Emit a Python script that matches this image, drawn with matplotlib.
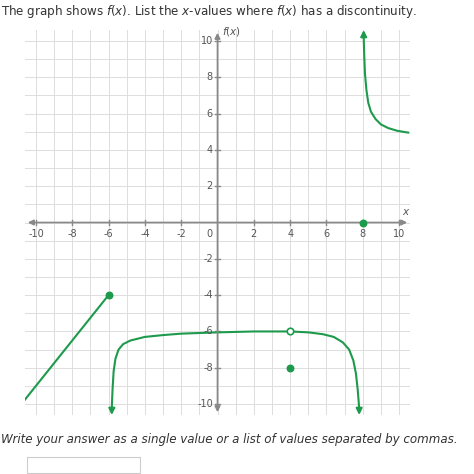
import matplotlib
matplotlib.use("Agg")
import matplotlib.pyplot as plt

GREEN = "#1d9a4c"
# pieces
line_x = [-10.6, -6.0]
line_y = [-9.75, -4.0]
mid_x = [-5.82, -5.78, -5.72, -5.62, -5.45, -5.2, -4.8, -4.0, -3.0, -2.0, 0.0, 2.0, 4.0, 5.0, 5.8, 6.4, 6.9, 7.25, 7.48, 7.62, 7.72, 7.8]
mid_y = [-10.2, -9.2, -8.2, -7.5, -7.0, -6.7, -6.5, -6.3, -6.2, -6.12, -6.05, -6.0, -6.0, -6.05, -6.15, -6.3, -6.6, -7.0, -7.6, -8.3, -9.2, -10.2]
right_x = [8.05, 8.08, 8.12, 8.2, 8.3, 8.45, 8.7, 9.0, 9.4, 9.9, 10.5]
right_y = [10.2, 9.2, 8.2, 7.3, 6.6, 6.1, 5.7, 5.4, 5.2, 5.05, 4.95]
filled_x = [-6, 4, 8]
filled_y = [-4, -8, 0]
open_x = [4]
open_y = [-6]
ticks = [-10, -8, -6, -4, -2, 2, 4, 6, 8, 10]

fig = plt.figure(figsize=(4.74, 4.74), dpi=100)
fig.text(0.003, 0.975, "The graph shows $f(x)$. List the $x$-values where $f(x)$ has a discontinuity.",
         fontsize=8.6, color="#333333", va="center")
fig.text(0.003, 0.072, "Write your answer as a single value or a list of values separated by commas.",
         fontsize=8.6, style="italic", color="#333333", va="center")
fig.patches.append(plt.Rectangle((27 / 474, 1 - 473 / 474), 113 / 474, 16 / 474,
                                 transform=fig.transFigure, fill=False, edgecolor="#cccccc", lw=0.8))

ax = fig.add_axes([25 / 474, 59 / 474, 385 / 474, 385 / 474])
ax.set_xlim(-10.6, 10.6)
ax.set_ylim(-10.6, 10.6)
for k in range(-10, 11):
    ax.axvline(k, color="#dddddd", lw=0.7, zorder=0)
    ax.axhline(k, color="#dddddd", lw=0.7, zorder=0)
for s in ax.spines.values():
    s.set_visible(False)
ax.set_xticks([]); ax.set_yticks([])

ax.annotate("", xy=(10.6, 0), xytext=(-10.6, 0), annotation_clip=False,
            arrowprops=dict(arrowstyle="<|-|>", color="#888888", lw=1.2, mutation_scale=8))
ax.annotate("", xy=(0, 10.6), xytext=(0, -10.6), annotation_clip=False,
            arrowprops=dict(arrowstyle="<|-|>", color="#888888", lw=1.2, mutation_scale=8))
for t in ticks:
    ax.plot([t, t], [-0.12, 0.12], color="#888888", lw=1)
    ax.plot([-0.12, 0.12], [t, t], color="#888888", lw=1)
    ax.text(t, -0.35, str(t), ha="center", va="top", fontsize=7, color="#555555")
    ax.text(-0.25, t, str(t), ha="right", va="center", fontsize=7, color="#555555")
ax.text(-0.25, -0.35, "0", ha="right", va="top", fontsize=7, color="#555555")
ax.text(10.4, 0.4, "$x$", fontsize=7.5, color="#555555", ha="center")
ax.text(0.25, 10.5, "$f(x)$", fontsize=7.5, color="#555555", va="center")

ax.plot(line_x, line_y, color=GREEN, lw=1.5)
ax.plot(mid_x, mid_y, color=GREEN, lw=1.5)
ax.plot(right_x, right_y, color=GREEN, lw=1.5)
for x0, y0, y1 in [(mid_x[0], mid_y[0], -10.6), (mid_x[-1], mid_y[-1], -10.6), (right_x[0], right_y[0], 10.6)]:
    ax.annotate("", xy=(x0, y1), xytext=(x0, y0), annotation_clip=False,
                arrowprops=dict(arrowstyle="-|>", color=GREEN, lw=1.5, mutation_scale=9,
                                shrinkA=0, shrinkB=0))
ax.scatter(filled_x, filled_y, s=22, color=GREEN, zorder=5)
ax.scatter(open_x, open_y, s=22, facecolor="white", edgecolor=GREEN, lw=1.2, zorder=5)

fig.savefig("out.png", dpi=100)
